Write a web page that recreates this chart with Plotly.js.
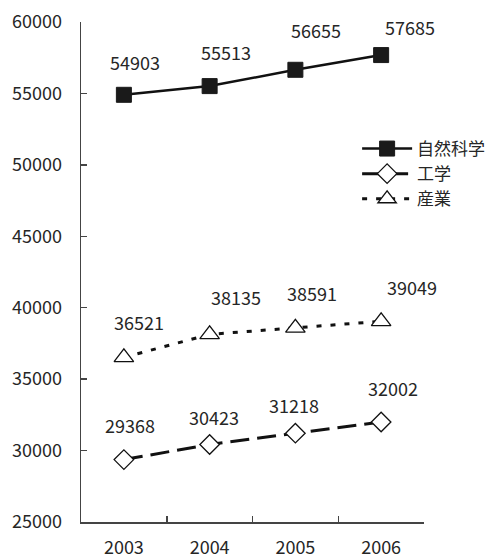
<!DOCTYPE html>
<html>
<head>
<meta charset="utf-8">
<script src="https://cdn.plot.ly/plotly-3.0.1.min.js"></script>
<style>html,body{margin:0;padding:0;background:#fff;}#chart{width:504px;height:558px;}</style>
</head>
<body>
<div id="chart"></div>
<script>
const years = ["2003", "2004", "2005", "2006"];
const seriesNames = ["自然科学", "工学", "産業"];
const natural = [54903, 55513, 56655, 57685];
const engineering = [29368, 30423, 31218, 32002];
const industry = [36521, 38135, 38591, 39049];
const yTicks = [25000, 30000, 35000, 40000, 45000, 50000, 55000, 60000];

// label offsets (px) relative to each point
const shiftNatural = [[11,33],[16,34],[21,40],[29,28]];
const shiftEngineering = [[6,35],[4,28],[-1,28],[12,34]];
const shiftIndustry = [[15,35],[26,37],[17,35],[31,34]];

const FONT = '"Noto Sans CJK JP", "Liberation Sans", sans-serif';
const INK = '#262626';

const traces = [
  {x: years, y: natural, name: seriesNames[0], mode: 'lines+markers', type: 'scatter',
   line: {color: '#111', width: 2.5},
   marker: {symbol: 'square', size: 15, color: '#1a1a1a', line: {color: '#1a1a1a', width: 1}}},
  {x: years, y: engineering, name: seriesNames[1], mode: 'lines+markers', type: 'scatter',
   line: {color: '#111', width: 3, dash: '19px,8px'},
   marker: {symbol: 'diamond', size: 15, color: '#fff', line: {color: '#111', width: 1.3}}},
  {x: years, y: industry, name: seriesNames[2], mode: 'lines+markers', type: 'scatter',
   line: {color: '#111', width: 3, dash: '5px,9px'},
   marker: {symbol: 'triangle-up', size: 17, color: '#fff', line: {color: '#111', width: 1.3}}}
];

const annotations = [];
function addLabels(vals, shifts) {
  vals.forEach((v, i) => {
    annotations.push({x: i, y: v, xref: 'x', yref: 'y', text: String(v), showarrow: false,
      xshift: shifts[i][0], yshift: shifts[i][1], font: {family: FONT, size: 18, color: INK}});
  });
}
addLabels(natural, shiftNatural);
addLabels(engineering, shiftEngineering);
addLabels(industry, shiftIndustry);

const layout = {
  width: 504, height: 558,
  margin: {l: 81, r: 80, t: 22, b: 36},
  paper_bgcolor: '#fff', plot_bgcolor: '#fff',
  showlegend: true,
  legend: {x: 0.805, y: 0.782, xanchor: 'left', yanchor: 'top', bgcolor: 'rgba(0,0,0,0)', borderwidth: 0,
           font: {family: FONT, size: 17, color: INK}, itemwidth: 50, tracegroupgap: 4},
  xaxis: {type: 'category', range: [-0.5, 3.5], showgrid: false, zeroline: false,
          showline: true, linecolor: '#444', linewidth: 1.5,
          ticks: 'inside', tickson: 'boundaries', ticklen: 6, tickcolor: '#444', tickwidth: 1.5,
          ticklabelstandoff: 9,
          tickfont: {family: FONT, size: 18, color: INK}, fixedrange: true},
  yaxis: {range: [25000, 60000], tickvals: yTicks, ticktext: yTicks.map(String),
          showgrid: false, zeroline: false,
          showline: true, linecolor: '#444', linewidth: 1.5,
          ticks: 'inside', ticklen: 6, tickcolor: '#444', tickwidth: 1.5,
          ticklabelstandoff: 14,
          tickfont: {family: FONT, size: 18, color: INK}, fixedrange: true},
  annotations: annotations
};

Plotly.newPlot('chart', traces, layout, {displayModeBar: false, staticPlot: true});
</script>
</body>
</html>
